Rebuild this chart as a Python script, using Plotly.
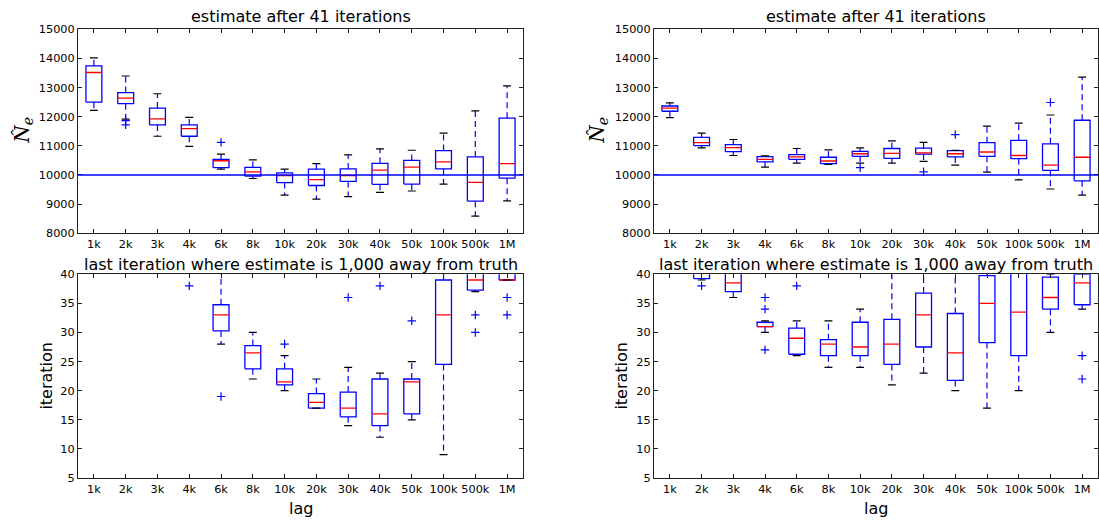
import plotly.graph_objects as go

cats = ["1k", "2k", "3k", "4k", "6k", "8k", "10k", "20k", "30k", "40k", "50k", "100k", "500k", "1M"]

# ---- top-left: estimate after 41 iterations ----
tl_lo = [12220, 11920, 11330, 10980, 10200, 9880, 9310, 9170, 9260, 9400, 9450, 9690, 8590, 9110]
tl_q1 = [12500, 12450, 11720, 11330, 10250, 9960, 9740, 9640, 9780, 9680, 9690, 10210, 9100, 9890]
tl_med = [13520, 12640, 11930, 11590, 10490, 10110, 9980, 9840, 9980, 10170, 10270, 10450, 9750, 10390]
tl_q3 = [13750, 12830, 12300, 11720, 10540, 10260, 10070, 10200, 10210, 10400, 10500, 10840, 10620, 11950]
tl_hi = [14020, 13400, 12790, 11980, 10720, 10520, 10200, 10390, 10690, 10900, 10850, 11440, 12200, 13060]
tl_out = {"2k": [11870, 11720], "6k": [11120]}

# ---- top-right: estimate after 41 iterations ----
tr_lo = [11970, 10930, 10670, 10270, 10410, 10360, 10410, 10410, 10470, 10340, 10100, 9830, 9520, 9310]
tr_q1 = [12190, 11010, 10800, 10450, 10540, 10390, 10640, 10570, 10720, 10620, 10640, 10560, 10160, 9800]
tr_med = [12300, 11110, 10940, 10540, 10620, 10480, 10730, 10740, 10760, 10730, 10790, 10670, 10340, 10610]
tr_q3 = [12370, 11290, 11040, 10630, 10700, 10610, 10810, 10910, 10920, 10840, 11110, 11190, 11070, 11880]
tr_hi = [12480, 11440, 11220, 10660, 10910, 10860, 10930, 11170, 11120, 10850, 11680, 11780, 12060, 13360]
tr_out = {"10k": [10250], "30k": [10110], "40k": [11390], "500k": [12490]}

# ---- bottom-left: last iteration where estimate is 1,000 away ----
bl_lo = [41, 41, 41, 41, 28, 22, 20, 17, 14, 12, 15, 9, 37, 39]
bl_q1 = [41, 41, 41, 41, 30.25, 23.75, 21, 17, 15.5, 14, 16, 24.5, 37.25, 39]
bl_med = [41, 41, 41, 41, 33, 26.5, 21.5, 18, 17, 16, 21.5, 33, 39, 39]
bl_q3 = [41, 41, 41, 41, 34.75, 27.75, 23.75, 19.5, 19.75, 22, 22, 39, 41, 41]
bl_hi = [41, 41, 41, 41, 41, 30, 26, 22, 24, 23, 25, 41, 41, 41]
bl_out = {"4k": [38], "6k": [19], "10k": [28], "30k": [36], "40k": [38],
          "50k": [32], "500k": [33, 30], "1M": [36, 33]}

# ---- bottom-right ----
br_lo = [41, 39, 36, 30, 26, 24, 24, 21, 23, 20, 17, 20, 30, 34]
br_q1 = [41, 39.25, 37, 31, 26.25, 26, 26, 24.5, 27.5, 21.75, 28.25, 26, 34, 34.75]
br_med = [41, 40.5, 38.5, 31, 29, 28, 27.5, 28, 33, 26.5, 35, 33.5, 36, 38.5]
br_q3 = [41, 41, 41, 31.75, 30.75, 28.75, 31.75, 32.25, 36.75, 33.25, 39.75, 41, 39.5, 40]
br_hi = [41, 41, 41, 32, 32, 32, 34, 41, 41, 41, 41, 41, 40, 41]
br_out = {"2k": [38], "4k": [36, 34, 27], "6k": [38], "1M": [26, 22]}

top_title = "estimate after 41 iterations"
bot_title = "last iteration where estimate is 1,000 away from truth"
truth = 10000

W, H = 1099, 525
FONT = "DejaVu Sans"
BLUE, RED, BLACK = "#0000ff", "#ff0000", "#000000"

fig = go.Figure()


def add_panel(lo, q1, med, q3, hi, outs, xa, ya):
    bx, by, wx, wy, cx, cy, mx, my, ox, oy = [], [], [], [], [], [], [], [], [], []
    for i, c in enumerate(cats):
        x = i + 1
        bx += [x - 0.25, x + 0.25, x + 0.25, x - 0.25, x - 0.25, None]
        by += [q1[i], q1[i], q3[i], q3[i], q1[i], None]
        wx += [x, x, None, x, x, None]
        wy += [q1[i], lo[i], None, q3[i], hi[i], None]
        cx += [x - 0.125, x + 0.125, None, x - 0.125, x + 0.125, None]
        cy += [lo[i], lo[i], None, hi[i], hi[i], None]
        mx += [x - 0.25, x + 0.25, None]
        my += [med[i], med[i], None]
        for v in outs.get(c, []):
            ox.append(x)
            oy.append(v)
    common = dict(xaxis=xa, yaxis=ya, showlegend=False, hoverinfo="skip")
    fig.add_trace(go.Scatter(x=wx, y=wy, mode="lines",
                             line=dict(color=BLUE, width=1.2, dash="6px,4px"), **common))
    fig.add_trace(go.Scatter(x=bx, y=by, mode="lines",
                             line=dict(color=BLUE, width=1.3), **common))
    fig.add_trace(go.Scatter(x=mx, y=my, mode="lines",
                             line=dict(color=RED, width=1.3), **common))
    fig.add_trace(go.Scatter(x=cx, y=cy, mode="lines",
                             line=dict(color=BLACK, width=1.2), **common))
    fig.add_trace(go.Scatter(x=ox, y=oy, mode="markers",
                             marker=dict(symbol="cross-thin", size=6, color=BLUE,
                                         line=dict(color=BLUE, width=1.2)), **common))


add_panel(tl_lo, tl_q1, tl_med, tl_q3, tl_hi, tl_out, "x", "y")
add_panel(tr_lo, tr_q1, tr_med, tr_q3, tr_hi, tr_out, "x2", "y2")
add_panel(bl_lo, bl_q1, bl_med, bl_q3, bl_hi, bl_out, "x3", "y3")
add_panel(br_lo, br_q1, br_med, br_q3, br_hi, br_out, "x4", "y4")

# truth line on top panels
for xa, ya in (("x", "y"), ("x2", "y2")):
    fig.add_shape(type="line", xref=f"{xa} domain", yref=ya, x0=0, x1=1,
                  y0=truth, y1=truth, line=dict(color=BLUE, width=1.5), layer="above")

left_dom = [78 / W, 523 / W]
right_dom = [654 / W, 1098 / W]
top_dom = [1 - 233 / H, 1 - 24 / H]
bot_dom = [1 - 484 / H, 1 - 275 / H]

TICKFONT = dict(family=FONT, size=11.3, color="#000")
xcommon = dict(range=[0.5, 14.5], tickmode="array", tickvals=list(range(1, 15)), ticktext=cats,
               ticks="inside", ticklen=4, tickwidth=1, tickcolor="#222", mirror="allticks",
               showline=True, linecolor="#222", linewidth=1, showgrid=False, zeroline=False,
               tickangle=0, tickfont=TICKFONT)
ycommon = dict(ticks="inside", ticklen=4, tickwidth=1, tickcolor="#222", mirror="allticks",
               showline=True, linecolor="#222", linewidth=1, showgrid=False, zeroline=False,
               tickformat="d", tickfont=TICKFONT)

fig.update_layout(
    width=W, height=H, margin=dict(l=0, r=0, t=0, b=0),
    paper_bgcolor="white", plot_bgcolor="white", showlegend=False,
    xaxis=dict(domain=left_dom, anchor="y", **xcommon),
    yaxis=dict(domain=top_dom, anchor="x", range=[8000, 15000], dtick=1000, tick0=8000, **ycommon),
    xaxis2=dict(domain=right_dom, anchor="y2", **xcommon),
    yaxis2=dict(domain=top_dom, anchor="x2", range=[8000, 15000], dtick=1000, tick0=8000, **ycommon),
    xaxis3=dict(domain=left_dom, anchor="y3", **xcommon),
    yaxis3=dict(domain=bot_dom, anchor="x3", range=[5, 40], dtick=5, tick0=5, **ycommon),
    xaxis4=dict(domain=right_dom, anchor="y4", **xcommon),
    yaxis4=dict(domain=bot_dom, anchor="x4", range=[5, 40], dtick=5, tick0=5, **ycommon),
)

tfont = dict(family=FONT, size=16, color="#000")
ann = []
for dom in (left_dom, right_dom):
    cxp = (dom[0] + dom[1]) / 2
    ann.append(dict(text=top_title, x=cxp, y=1 - 24 / H, yanchor="bottom", yshift=1))
    ann.append(dict(text=bot_title, x=cxp, y=1 - 275 / H, yanchor="bottom", yshift=-2))
    ann.append(dict(text="lag", x=cxp, y=1 - 503 / H, yanchor="top"))
ann.append(dict(text="<i>N\u0302</i><sub><i>e</i></sub>", x=23 / W, y=1 - 128 / H,
                yanchor="middle", textangle=-90, font=dict(family="DejaVu Serif", size=20, color="#000")))
ann.append(dict(text="<i>N\u0302</i><sub><i>e</i></sub>", x=598 / W, y=1 - 128 / H,
                yanchor="middle", textangle=-90, font=dict(family="DejaVu Serif", size=20, color="#000")))
ann.append(dict(text="iteration", x=47 / W, y=1 - 379 / H, yanchor="middle", textangle=-90))
ann.append(dict(text="iteration", x=622 / W, y=1 - 379 / H, yanchor="middle", textangle=-90))
for a in ann:
    a.setdefault("font", tfont)
    fig.add_annotation(xref="paper", yref="paper", xanchor="center", showarrow=False, **a)

fig.write_html("out.html")
